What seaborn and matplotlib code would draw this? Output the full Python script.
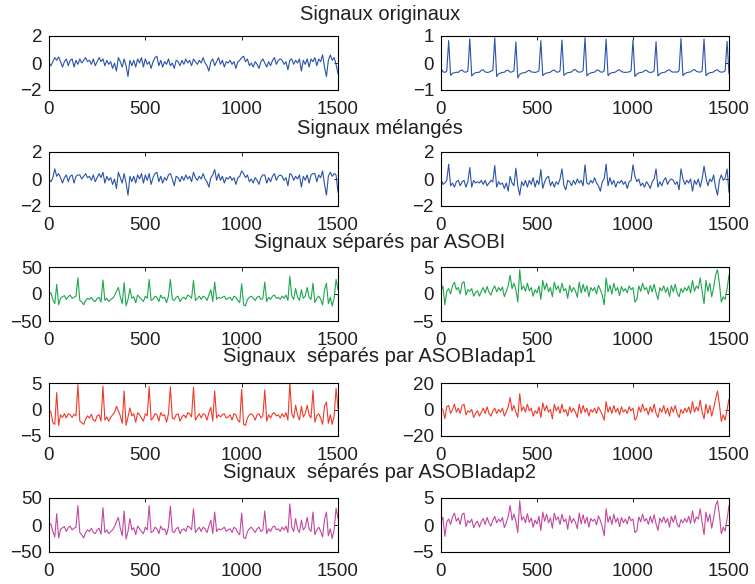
import matplotlib
matplotlib.use("Agg")
import matplotlib.pyplot as plt
import seaborn as sns
import pandas as pd

# ---------------- data (one value every 10 samples) -------------
sample_idx = list(range(0, 1501, 10))

titles = ["Signaux originaux", "Signaux mélangés", "Signaux séparés par ASOBI",
          "Signaux  séparés par ASOBIadap1", "Signaux  séparés par ASOBIadap2"]

orig_left = [0.0, -0.2, 0.1, 0.4, 0.2, 0.45, 0.1, -0.3, 0.1, 0.3,
             -0.2, 0.2, 0.3, -0.3, 0.2, -0.1, 0.3, 0.0, 0.2, 0.4,
             0.1, 0.2, -0.1, 0.3, -0.2, 0.1, 0.4, 0.1, 0.3, -0.2,
             0.2, -0.1, 0.1, -0.4, 0.0, -0.6, 0.4, 0.1, -0.3, 0.3,
             -0.2, -1.0, 0.2, -0.2, 0.2, -0.3, 0.3, 0.0, 0.4, -0.3,
             0.3, -0.1, 0.1, -0.4, 0.1, 0.4, 0.5, -0.2, 0.2, -0.3,
             0.1, -0.1, 0.3, -0.2, 0.0, -0.4, 0.2, 0.1, -0.2, 0.2,
             -0.1, 0.3, 0.0, 0.2, -0.2, 0.3, 0.1, -0.1, 0.2, 0.0,
             0.4, 0.0, -0.2, -0.6, 0.1, 0.3, -0.2, 0.1, 0.4, -0.1,
             0.2, -0.3, 0.1, 0.0, 0.2, -0.1, 0.1, -0.4, 0.1, 0.2,
             0.4, 0.5, 0.1, 0.3, -0.2, 0.0, -0.3, 0.1, -0.1, -0.4,
             0.1, 0.3, 0.0, -0.3, 0.1, -0.2, 0.2, 0.4, -0.1, 0.2,
             0.3, 0.2, -0.1, 0.1, -0.5, 0.2, 0.3, -0.1, 0.2, 0.0,
             0.3, -0.6, 0.2, -0.1, 0.3, -0.3, 0.3, 0.1, 0.4, -0.2,
             0.3, 0.1, 0.6, -0.3, -1.0, 0.2, 0.6, 0.2, 0.4, -0.1,
             -0.8]

orig_right = [-0.20, -0.32, -0.35, -0.30, 0.83, -0.46, -0.38, -0.36, -0.34, -0.35,
              -0.28, -0.26, -0.33, -0.34, -0.30, 0.90, -0.48, -0.40, -0.36, -0.35,
              -0.34, -0.27, -0.25, -0.33, -0.35, -0.34, -0.30, -0.28, 0.93, -0.50,
              -0.40, -0.37, -0.35, -0.34, -0.28, -0.27, -0.34, -0.33, -0.29, 0.78,
              -0.55, -0.42, -0.38, -0.36, -0.35, -0.30, -0.27, -0.33, -0.34, -0.35,
              -0.33, -0.29, 0.83, -0.47, -0.40, -0.37, -0.36, -0.34, -0.28, -0.26,
              -0.33, -0.34, -0.29, 0.85, -0.46, -0.39, -0.36, -0.35, -0.33, -0.26,
              -0.24, -0.32, -0.34, -0.33, -0.28, 0.94, -0.48, -0.40, -0.37, -0.35,
              -0.34, -0.27, -0.26, -0.33, -0.34, -0.29, 0.88, -0.47, -0.39, -0.36,
              -0.35, -0.33, -0.27, -0.25, -0.32, -0.34, -0.35, -0.34, -0.33, -0.29,
              0.85, -0.50, -0.41, -0.37, -0.35, -0.34, -0.28, -0.27, -0.33, -0.35,
              -0.34, -0.29, 0.79, -0.48, -0.40, -0.36, -0.35, -0.33, -0.27, -0.25,
              -0.32, -0.34, -0.33, -0.34, -0.29, 0.91, -0.47, -0.39, -0.36, -0.34,
              -0.33, -0.27, -0.24, -0.31, -0.33, -0.34, -0.29, 0.89, -0.47, -0.39,
              -0.36, -0.35, -0.33, -0.27, -0.25, -0.32, -0.34, -0.33, -0.29, 0.80,
              -0.40]

mixed_left = [0.0, -0.2, 0.1, 0.75, 0.2, 0.4, 0.1, -0.3, 0.1, 0.3,
              -0.2, 0.2, 0.3, -0.3, 0.2, 0.3, 0.3, 0.0, 0.2, 0.4,
              0.1, 0.2, -0.1, 0.3, -0.2, 0.1, 0.4, 0.1, 0.5, -0.3,
              0.2, -0.1, 0.1, -0.4, 0.0, -0.7, 0.5, 0.1, -0.3, 0.4,
              -0.3, -1.2, 0.2, -0.2, 0.2, -0.3, 0.3, 0.0, 0.4, -0.3,
              0.3, -0.1, 0.4, -0.4, 0.1, 0.4, 0.5, -0.2, 0.2, -0.3,
              0.1, -0.1, 0.3, 0.4, 0.0, -0.5, 0.2, 0.1, -0.2, 0.2,
              -0.1, 0.3, 0.0, 0.2, -0.2, 0.5, 0.1, -0.1, 0.2, 0.0,
              0.4, 0.0, -0.2, -0.6, 0.1, 0.3, 0.7, -0.1, 0.4, -0.1,
              0.2, -0.3, 0.1, 0.0, 0.2, -0.1, 0.1, -0.4, 0.1, 0.2,
              0.6, 0.4, 0.1, 0.3, -0.2, 0.0, -0.3, 0.1, -0.1, -0.4,
              0.1, 0.3, 0.3, -0.3, 0.1, -0.2, 0.2, 0.4, -0.1, 0.2,
              0.3, 0.2, -0.1, 0.1, -0.5, 0.4, 0.3, -0.1, 0.2, 0.0,
              0.3, -0.6, 0.2, -0.1, 0.3, -0.3, 0.3, 0.4, 0.4, -0.2,
              0.3, 0.1, 0.6, -0.4, -1.2, 0.2, 0.5, 0.2, 0.4, 0.3,
              -1.0]

mixed_right = [0.0, -0.4, -0.3, -0.1, 1.1, -0.5, -0.3, -0.6, -0.2, -0.1,
               -0.5, -0.2, -0.1, -0.6, -0.2, 0.85, -0.6, -0.1, -0.3, -0.2,
               -0.3, -0.1, -0.4, -0.1, -0.5, -0.3, -0.1, -0.2, 1.0, -0.6,
               -0.2, -0.4, -0.3, -0.7, -0.3, -0.9, 0.2, -0.3, -0.5, 0.8,
               -0.5, -1.2, -0.2, -0.5, -0.1, -0.6, -0.1, -0.4, 0.1, -0.6,
               -0.1, -0.4, 0.7, -0.7, -0.2, 0.1, 0.2, -0.5, -0.2, -0.6,
               -0.2, -0.4, 0.0, 0.75, -0.5, -0.8, -0.1, -0.2, -0.5, -0.1,
               -0.4, 0.0, -0.3, -0.1, -0.5, 1.05, -0.3, -0.4, -0.1, -0.3,
               0.1, -0.3, -0.5, -0.9, -0.2, 0.0, 1.1, -0.5, 0.1, -0.4,
               -0.1, -0.6, -0.2, -0.3, -0.1, -0.4, -0.2, -0.7, -0.2, -0.1,
               1.05, 0.2, -0.2, 0.0, -0.5, -0.3, -0.6, -0.2, -0.4, -0.7,
               -0.2, 0.0, 0.75, -0.6, -0.2, -0.5, -0.1, 0.1, -0.4, -0.1,
               0.0, -0.1, -0.4, -0.2, -0.8, 0.75, 0.0, -0.4, -0.1, -0.3,
               0.0, -0.9, -0.1, -0.4, 0.0, -0.6, 0.0, 0.95, 0.1, -0.5,
               0.0, -0.2, 0.3, -0.6, -1.2, -0.1, 0.3, -0.1, 0.1, 0.75,
               -1.0]

asobi_left = [0, 2, -10, -18, 18, -20, -8, -5, -3, -10,
              -5, -2, -8, -6, -4, 30, -12, -15, -20, -12,
              -8, -10, -6, -12, -14, -8, -6, -15, 26, -12,
              -8, -14, -10, -8, -3, 5, 12, -5, -18, 21,
              -22, -10, 10, -8, -5, -16, -2, -6, -10, -14,
              -4, -8, 27, -12, -10, -4, -6, -14, -2, -8,
              -6, -16, -4, 27, -10, -12, -6, -4, -14, -8,
              -6, -10, -2, -4, -8, 25, -12, -8, -4, -10,
              -4, -6, -12, -2, 8, -14, 22, -10, -6, -8,
              -6, -4, -10, -8, -6, -12, -4, -6, -12, -16,
              19, -20, -22, -10, -6, -4, -8, -12, -6, -4,
              -10, -8, 22, -14, -6, -10, -4, -2, -8, -6,
              -10, -4, -8, -2, -12, 33, -4, -10, 10, -6,
              -12, 8, -8, -4, 12, -6, -10, 20, -16, -8,
              -4, -10, -20, 8, 20, -18, -6, -22, -8, 27,
              8]

asobi_right = [0.5, 1.5, -2.0, 0.5, 1.0, 0.0, 1.5, 2.2, 0.8, 1.2,
               0.0, 2.0, 2.3, -0.2, 0.8, 0.5, 1.0, -0.4, 0.3, 0.6,
               -0.4, 0.5, 1.2, 0.2, 1.4, 0.3, -0.2, 0.9, 1.5, 0.4,
               1.2, 0.6, 1.3, -0.5, 0.5, 1.5, 3.5, 1.0, 2.0, 0.8,
               -1.5, 4.5, 0.8, 1.5, 0.5, 2.0, 0.6, 1.2, -0.4, 0.8,
               0.2, 1.5, -1.0, 2.5, 0.8, 2.0, 0.4, 1.2, -0.5, 2.2,
               0.8, 1.5, 0.2, 2.0, 0.6, 1.0, -0.8, 1.6, 0.4, 1.2,
               0.6, -0.6, 2.2, 0.2, 1.8, 0.4, 1.5, -0.5, 1.2, 0.6,
               1.2, 0.0, 1.6, 0.8, -0.2, -2.0, 3.0, 0.4, 1.6, 0.0,
               2.0, 0.6, 1.2, -0.3, 1.4, 0.5, 1.0, 0.2, 1.5, 0.8,
               1.2, -1.5, -1.0, 1.5, 0.5, 2.0, 0.8, 1.2, 0.0, 1.6,
               0.4, 1.8, 0.2, -1.0, 1.2, 0.6, 1.5, 0.3, 1.2, -0.5,
               1.6, 0.4, 1.8, 0.2, -0.5, 1.0, 0.3, 1.2, 0.6, 1.5,
               0.2, 2.5, 0.5, 1.5, 1.0, 3.0, 0.5, -1.8, 2.5, 0.5,
               2.0, -0.5, 1.2, 3.5, 4.5, 2.0, -1.5, -0.5, -1.0, 1.0,
               3.5]

adap1_left = [0.0, -0.5, -2.5, -2.8, 3.2, -3.0, -1.0, -1.5, -0.8, -1.6,
              -0.8, -1.0, -1.5, -0.9, -1.2, 4.7, -2.2, -2.5, -2.8, -1.8,
              -1.2, -1.6, -0.9, -2.0, -2.2, -1.2, -1.0, -2.2, 4.4, -2.0,
              -1.4, -2.2, -1.5, -1.0, -0.6, 0.6, -0.2, -1.2, -2.6, 3.5,
              -3.0, -1.4, 0.3, -1.2, -0.8, -2.4, -0.6, -1.0, -1.6, -2.2,
              -0.8, -1.2, 4.3, -2.0, -1.6, -0.8, -1.0, -2.2, -0.6, -1.2,
              -1.0, -2.4, -0.8, 4.3, -1.6, -1.8, -1.0, -0.8, -2.2, -1.4,
              -1.0, -1.6, -0.6, -0.8, -1.4, 4.2, -2.0, -1.4, -0.8, -1.6,
              -0.8, -1.0, -2.0, -0.6, 0.4, -2.2, 3.5, -1.6, -1.0, -1.4,
              -1.0, -0.8, -1.6, -1.4, -1.0, -2.0, -0.8, -1.0, -2.0, -2.4,
              3.8, -2.8, -3.0, -1.6, -1.0, -0.8, -1.2, -2.0, -1.0, -0.8,
              -1.6, -1.2, 3.7, -2.2, -1.0, -1.6, -0.8, -0.6, -1.2, -1.0,
              -1.6, -0.8, -1.4, -0.6, -2.0, 5.0, -0.8, -1.6, 0.8, -1.0,
              -2.0, 0.6, -1.4, -0.8, 0.8, -1.0, -1.6, 3.6, -2.4, -1.2,
              -0.8, -1.6, -2.8, 0.6, 1.4, -2.6, -1.0, -2.8, -1.2, 4.0,
              0.2]

adap1_right = [1, 0, -7, 2, 3, -3, 0, 4, -2, 1,
               -3, 3, 4, -4, -1, -2, 0, -6, -3, -1,
               -5, -2, 1, -3, 2, -3, -5, -1, 1, -3,
               0, -2, 1, -5, -2, 2, 9, -1, 3, -2,
               -6, 12, -1, 2, -2, 4, -1, 1, -5, -1,
               -3, 2, -6, 5, -1, 3, -2, 0, -7, 4,
               -1, 2, -3, 4, -2, 0, -5, 2, -2, 1,
               -2, -6, 4, -3, 3, -2, 1, -5, 0, -2,
               1, -3, 2, -1, -4, -8, 6, -2, 2, -3,
               3, -2, 1, -4, 2, -2, 0, -3, 2, -1,
               1, -8, -6, 2, -2, 4, -1, 1, -4, 2,
               -2, 4, -3, -6, 1, -2, 3, -3, 1, -5,
               2, -2, 3, -3, -6, 0, -3, 1, -2, 2,
               -3, 6, -2, 2, -1, 7, -2, -7, 4, -3,
               3, -5, 1, 8, 14, 4, -9, -4, -8, 0,
               8]

adap2_left = [0, 2, -12, -22, 21, -24, -8, -5, -3, -12,
              -5, -2, -9, -6, -4, 36, -14, -18, -24, -14,
              -9, -12, -6, -14, -16, -9, -6, -17, 32, -14,
              -9, -16, -12, -9, -3, 6, 14, -6, -20, 26,
              -26, -12, 12, -9, -5, -18, -2, -7, -12, -16,
              -4, -9, 36, -14, -12, -4, -7, -16, -2, -9,
              -7, -18, -4, 35, -12, -14, -7, -4, -16, -9,
              -7, -12, -2, -4, -9, 30, -14, -9, -4, -12,
              -4, -7, -14, -2, 9, -16, 24, -12, -7, -9,
              -7, -4, -12, -9, -7, -14, -4, -7, -14, -18,
              22, -23, -25, -12, -7, -4, -9, -14, -7, -4,
              -12, -9, 26, -16, -7, -12, -4, -2, -9, -7,
              -12, -4, -9, -2, -14, 39, -4, -12, 12, -7,
              -14, 9, -9, -4, 14, -7, -12, 24, -18, -9,
              -4, -12, -22, 10, 24, -20, -7, -25, -9, 31,
              12]

adap2_right = [0.6, 1.4, -2.1, 0.6, 1.1, 0.1, 1.5, 2.2, 0.7, 1.3,
               0.1, 2.0, 2.2, -0.3, 0.8, 0.4, 1.1, -0.5, 0.3, 0.7,
               -0.4, 0.6, 1.2, 0.1, 1.4, 0.4, -0.2, 0.9, 1.6, 0.4,
               1.1, 0.6, 1.4, -0.5, 0.4, 1.6, 3.6, 0.9, 2.0, 0.7,
               -1.4, 4.5, 0.9, 1.5, 0.4, 2.1, 0.5, 1.3, -0.4, 0.9,
               0.2, 1.6, -1.0, 2.4, 0.7, 2.0, 0.4, 1.3, -0.6, 2.2,
               0.9, 1.5, 0.1, 2.0, 0.6, 1.1, -0.8, 1.7, 0.4, 1.2,
               0.5, -0.7, 2.2, 0.2, 1.9, 0.3, 1.5, -0.4, 1.2, 0.7,
               1.1, 0.0, 1.7, 0.8, -0.3, -2.0, 3.0, 0.5, 1.6, 0.1,
               2.0, 0.5, 1.3, -0.3, 1.4, 0.4, 1.1, 0.2, 1.6, 0.8,
               1.1, -1.4, -1.1, 1.5, 0.6, 2.0, 0.7, 1.2, 0.1, 1.6,
               0.4, 1.9, 0.2, -1.0, 1.3, 0.5, 1.5, 0.4, 1.2, -0.4,
               1.6, 0.5, 1.8, 0.1, -0.4, 1.0, 0.4, 1.2, 0.5, 1.6,
               0.3, 2.6, 0.4, 1.5, 1.1, 3.0, 0.4, -1.8, 2.4, 0.6,
               2.0, -0.6, 1.3, 3.6, 4.5, 1.9, -1.6, -0.4, -1.1, 1.1,
               3.6]

xticks = [0, 500, 1000, 1500]
yticks = [[-2, 0, 2], [-1, 0, 1], [-2, 0, 2], [-2, 0, 2],
          [-50, 0, 50], [-5, 0, 5], [-5, 0, 5], [-20, 0, 20],
          [-50, 0, 50], [-5, 0, 5]]

series = [orig_left, orig_right, mixed_left, mixed_right,
          asobi_left, asobi_right, adap1_left, adap1_right,
          adap2_left, adap2_right]

row_colors = ["#2a52a8", "#2a52a8", "#1fa64f", "#ef3a2a", "#c2489e"]

# ---------------- figure ----------------
sns.set_theme(style="white")
plt.rcParams["font.family"] = ["Liberation Sans", "DejaVu Sans"]

fig = plt.figure(figsize=(7.55, 5.84), dpi=100)
W, H = 755.0, 584.0
col_x = [(49, 338), (441, 729)]
row_y = [(36, 90), (152, 206), (267, 321), (383, 436), (498, 552)]
title_y = [15, 128, 242, 357, 472]

for r in range(5):
    for c in range(2):
        k = 2 * r + c
        x0, x1 = col_x[c]
        y0, y1 = row_y[r]
        ax = fig.add_axes([x0 / W, 1 - y1 / H, (x1 - x0) / W, (y1 - y0) / H])
        df = pd.DataFrame({"n": sample_idx, "v": series[k]})
        sns.lineplot(data=df, x="n", y="v", ax=ax, color=row_colors[r],
                     lw=0.8, estimator=None, legend=False)
        ax.set_xlim(0, 1500)
        yt = yticks[k]
        ax.set_ylim(yt[0], yt[-1])
        ax.set_xticks(xticks)
        ax.set_yticks(yt)
        ax.set_xlabel("")
        ax.set_ylabel("")
        ax.tick_params(axis="both", direction="in", length=3, width=0.6,
                       top=True, right=True, labelsize=13.5, colors="black",
                       labelcolor="#231f20")
        ax.tick_params(axis="x", pad=8)
        ax.tick_params(axis="y", pad=5)
        for s in ax.spines.values():
            s.set_visible(True)
            s.set_color("black")
            s.set_linewidth(0.8)
    fig.text(0.503, 1 - title_y[r] / H, titles[r], ha="center", va="center",
             fontsize=14.5, color="#231f20")

fig.savefig("out.png", dpi=100)
